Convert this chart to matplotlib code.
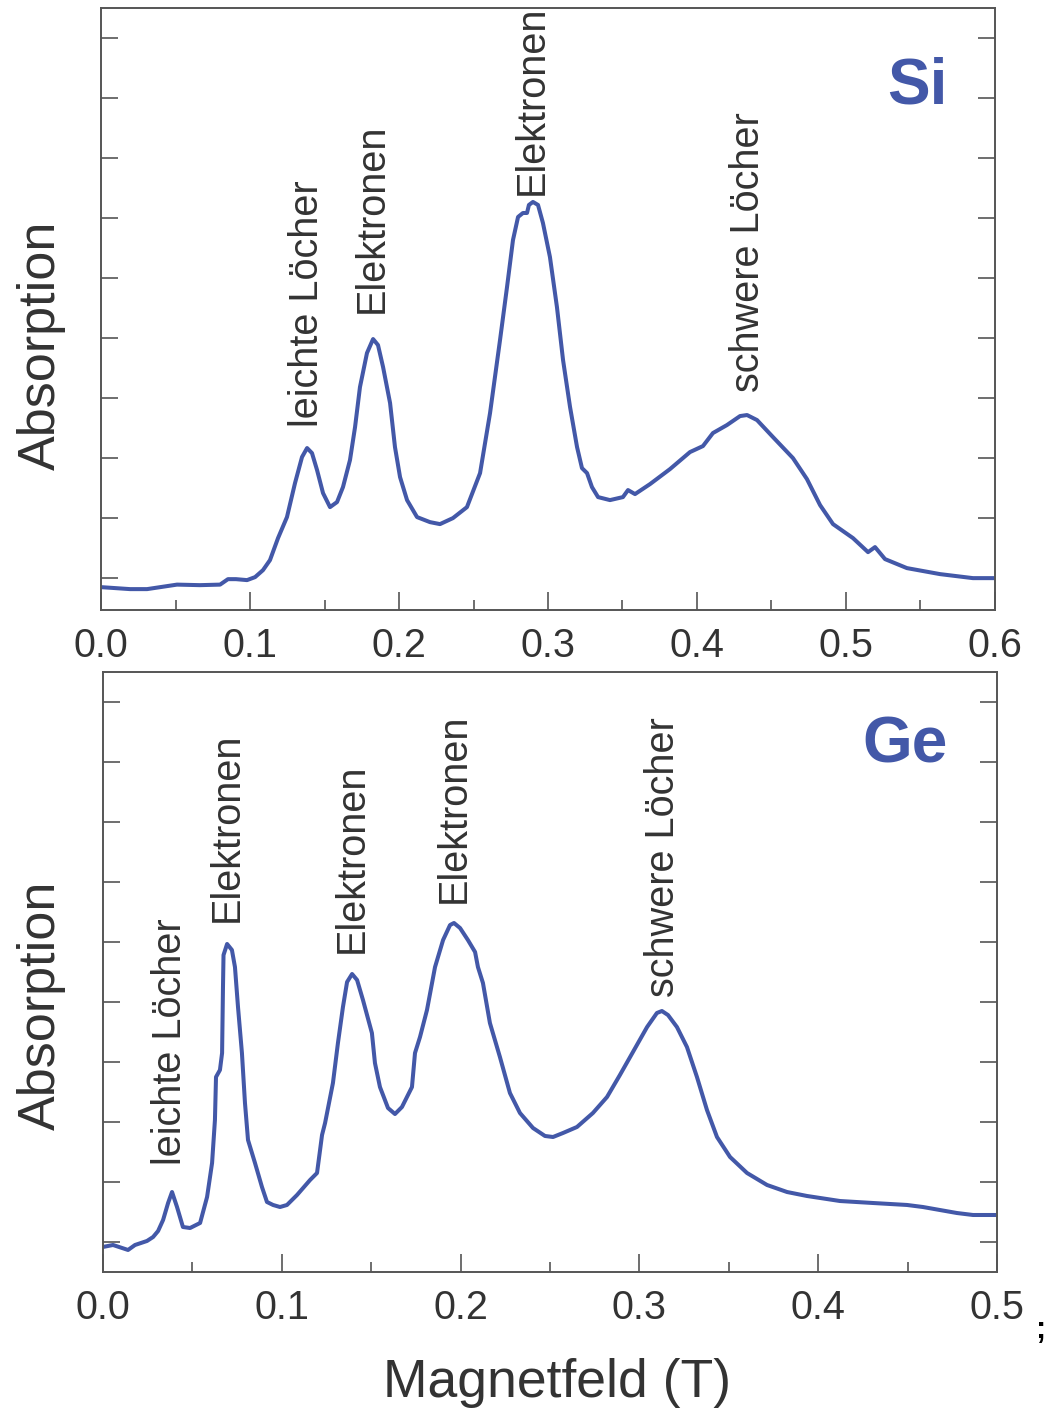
import matplotlib
matplotlib.use('Agg')
import matplotlib.pyplot as plt
import numpy as np

plt.rcParams['font.family'] = ['Liberation Sans', 'DejaVu Sans']

# Si spectrum (top): magnetic field in T, absorption in arbitrary units
si_field = [0.0000, 0.0195, 0.0309, 0.0510, 0.0664, 0.0799, 0.0852, 0.0906, 0.0980, 0.1034,
            0.1087, 0.1134, 0.1188, 0.1248, 0.1302, 0.1349, 0.1383, 0.1416, 0.1450, 0.1490,
            0.1537, 0.1584, 0.1624, 0.1671, 0.1705, 0.1738, 0.1785, 0.1826, 0.1859, 0.1893,
            0.1940, 0.1973, 0.2007, 0.2054, 0.2121, 0.2208, 0.2275, 0.2362, 0.2456, 0.2544,
            0.2611, 0.2678, 0.2725, 0.2765, 0.2799, 0.2832, 0.2859, 0.2872, 0.2899, 0.2933,
            0.2966, 0.3013, 0.3060, 0.3101, 0.3148, 0.3195, 0.3228, 0.3262, 0.3295, 0.3336,
            0.3416, 0.3503, 0.3537, 0.3584, 0.3685, 0.3819, 0.3953, 0.4040, 0.4107, 0.4201,
            0.4289, 0.4336, 0.4403, 0.4510, 0.4644, 0.4738, 0.4826, 0.4913, 0.5047, 0.5148,
            0.5195, 0.5262, 0.5409, 0.5631, 0.5852, 0.6000]
si_absorption = [-0.150, -0.183, -0.183, -0.108, -0.117, -0.108, -0.017, -0.017, -0.033, 0.017,
                 0.133, 0.300, 0.667, 1.017, 1.583, 2.017, 2.167, 2.083, 1.800, 1.417,
                 1.183, 1.267, 1.517, 1.967, 2.517, 3.183, 3.750, 3.983, 3.883, 3.517,
                 2.917, 2.183, 1.683, 1.300, 1.017, 0.933, 0.900, 1.000, 1.183, 1.750,
                 2.750, 3.967, 4.850, 5.633, 6.017, 6.083, 6.083, 6.217, 6.267, 6.217,
                 5.917, 5.350, 4.517, 3.633, 2.850, 2.183, 1.833, 1.750, 1.517, 1.350,
                 1.300, 1.350, 1.467, 1.400, 1.567, 1.817, 2.100, 2.200, 2.417, 2.550,
                 2.700, 2.717, 2.633, 2.350, 2.000, 1.650, 1.217, 0.900, 0.667, 0.433,
                 0.517, 0.317, 0.167, 0.067, 0.000, 0.000]

# Ge spectrum (bottom)
ge_field = [0.0000, 0.0056, 0.0140, 0.0179, 0.0246, 0.0280, 0.0308, 0.0336, 0.0364, 0.0386,
            0.0414, 0.0447, 0.0487, 0.0543, 0.0582, 0.0610, 0.0626, 0.0632, 0.0654, 0.0666,
            0.0671, 0.0674, 0.0694, 0.0721, 0.0738, 0.0755, 0.0777, 0.0794, 0.0811, 0.0850,
            0.0889, 0.0917, 0.0951, 0.0990, 0.1029, 0.1085, 0.1158, 0.1197, 0.1214, 0.1225,
            0.1242, 0.1286, 0.1314, 0.1342, 0.1365, 0.1393, 0.1421, 0.1454, 0.1504, 0.1521,
            0.1549, 0.1594, 0.1633, 0.1672, 0.1728, 0.1745, 0.1773, 0.1812, 0.1857, 0.1902,
            0.1941, 0.1963, 0.1997, 0.2041, 0.2081, 0.2097, 0.2125, 0.2164, 0.2220, 0.2276,
            0.2332, 0.2405, 0.2472, 0.2517, 0.2573, 0.2651, 0.2740, 0.2819, 0.2891, 0.2964,
            0.3043, 0.3098, 0.3126, 0.3160, 0.3210, 0.3266, 0.3322, 0.3378, 0.3434, 0.3507,
            0.3602, 0.3714, 0.3826, 0.3937, 0.4122, 0.4306, 0.4497, 0.4586, 0.4776, 0.4866,
            0.5000]
ge_absorption = [-0.083, -0.050, -0.133, -0.050, 0.017, 0.083, 0.183, 0.367, 0.650, 0.833,
                 0.583, 0.250, 0.233, 0.317, 0.750, 1.317, 2.033, 2.750, 2.867, 3.150,
                 4.250, 4.783, 4.967, 4.867, 4.583, 3.917, 3.150, 2.317, 1.700, 1.317,
                 0.917, 0.667, 0.617, 0.583, 0.617, 0.783, 1.033, 1.150, 1.533, 1.783,
                 1.983, 2.650, 3.317, 3.917, 4.333, 4.467, 4.367, 4.033, 3.483, 2.983,
                 2.583, 2.233, 2.133, 2.250, 2.583, 3.150, 3.417, 3.867, 4.583, 5.033,
                 5.283, 5.317, 5.233, 5.033, 4.833, 4.583, 4.317, 3.650, 3.083, 2.483,
                 2.150, 1.900, 1.767, 1.750, 1.817, 1.917, 2.150, 2.417, 2.783, 3.167,
                 3.583, 3.817, 3.850, 3.783, 3.583, 3.250, 2.750, 2.200, 1.750, 1.417,
                 1.150, 0.950, 0.833, 0.767, 0.683, 0.650, 0.617, 0.583, 0.483, 0.450,
                 0.450]

# peak labels: (text, field, absorption where the label starts)
si_labels = ["leichte Löcher", "Elektronen", "Elektronen", "schwere Löcher"]
si_label_x = [0.138, 0.182, 0.289, 0.434]
si_label_y = [2.52, 4.42, 6.38, 3.10]

ge_labels = ["leichte Löcher", "Elektronen", "Elektronen", "Elektronen", "schwere Löcher"]
ge_label_x = [0.0375, 0.0693, 0.139, 0.196, 0.313]
ge_label_y = [1.28, 5.33, 4.82, 5.65, 4.08]

blue = '#4358a8'
grey = '#333333'

fig = plt.figure(figsize=(10.49, 14.08), dpi=100)
ax_si = fig.add_axes([0.0963, 0.5668, 0.8522, 0.4276])
ax_ge = fig.add_axes([0.0982, 0.0966, 0.8522, 0.4261])


def style_axis(ax, xmax, ymin):
    ax.set_xlim(0, xmax)
    ax.set_ylim(ymin, 9.5)
    ax.set_xticks(np.arange(0, xmax + 0.001, 0.1))
    ax.set_xticks(np.arange(0.05, xmax, 0.1), minor=True)
    ax.set_yticks(np.arange(0, 10))
    ax.set_yticklabels([])
    ax.xaxis.set_major_formatter(matplotlib.ticker.FormatStrFormatter('%.1f'))
    ax.tick_params(axis='x', which='major', direction='in', length=13, width=1.2,
                   color='#555555', labelsize=28.5, labelcolor=grey, pad=12)
    ax.tick_params(axis='x', which='minor', direction='in', length=7, width=1.2,
                   color='#555555')
    ax.tick_params(axis='y', direction='in', length=12, width=1.2, color='#555555',
                   left=True, right=True)
    for sp in ax.spines.values():
        sp.set_color('#555555')
        sp.set_linewidth(1.4)


ax_si.plot(si_field, si_absorption, color=blue, lw=2.9,
           solid_joinstyle='round', solid_capstyle='round')
style_axis(ax_si, 0.6, -0.53)
for t, x, y in zip(si_labels, si_label_x, si_label_y):
    ax_si.text(x, y, t, rotation=90, ha='center', va='bottom', fontsize=28.5, color=grey)
ax_si.text(0.548, 8.19, 'Si', fontsize=46, fontweight='bold', color=blue,
           ha='center', va='center')

ax_ge.plot(ge_field, ge_absorption, color=blue, lw=2.9,
           solid_joinstyle='round', solid_capstyle='round')
style_axis(ax_ge, 0.5, -0.5)
for t, x, y in zip(ge_labels, ge_label_x, ge_label_y):
    ax_ge.text(x, y, t, rotation=90, ha='center', va='bottom', fontsize=28.5, color=grey)
ax_ge.text(0.4485, 8.27, 'Ge', fontsize=46, fontweight='bold', color=blue,
           ha='center', va='center')

# axis titles placed like in the original figure
fig.text(0.039, 0.755, 'Absorption', rotation=90, fontsize=37.5, color=grey,
         ha='center', va='center')
fig.text(0.039, 0.2862, 'Absorption', rotation=90, fontsize=37.5, color=grey,
         ha='center', va='center')
fig.text(0.531, 0.0178, 'Magnetfeld (T)', fontsize=38.5, color=grey,
         ha='center', va='center')

# stray mark right of the last tick label
fig.text(0.9914, 0.0554, ';', fontsize=22, fontweight='bold', color='black',
         ha='center', va='center')

fig.savefig('out.png', dpi=100)
